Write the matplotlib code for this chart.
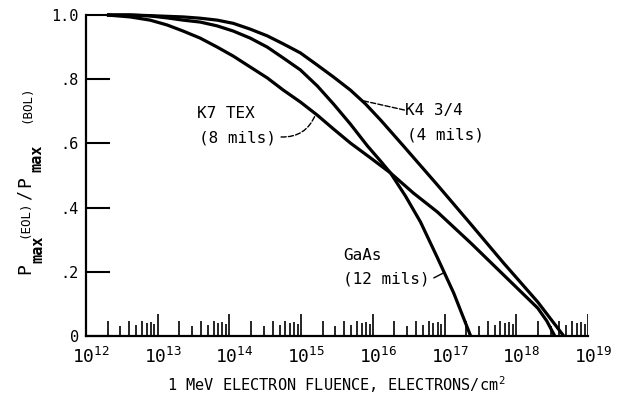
import matplotlib
matplotlib.use("Agg")
import matplotlib.pyplot as plt
from matplotlib.transforms import ScaledTranslation

plt.rcParams['font.family'] = ['DejaVu Sans Mono', 'DejaVu Sans']
plt.rcParams['mathtext.fontset'] = 'custom'
plt.rcParams['mathtext.rm'] = 'DejaVu Sans Mono'
plt.rcParams['mathtext.it'] = 'DejaVu Sans Mono'
plt.rcParams['mathtext.bf'] = 'DejaVu Sans Mono:bold'

# ---- data ----
gaas_fluence = [1.96e12, 4.12e12, 7.83e12, 1.35e13, 2.26e13, 3.91e13, 6.76e13, 1.13e14,
                1.95e14, 3.37e14, 5.64e14, 9.75e14, 1.68e15, 2.82e15, 4.87e15, 8.41e15,
                1.28e16, 1.76e16, 2.85e16, 4.62e16, 7.98e16, 1.34e17, 2.31e17]
gaas_ratio = [1.000, 1.000, 0.997, 0.991, 0.984, 0.978, 0.966, 0.950,
              0.928, 0.900, 0.866, 0.829, 0.779, 0.723, 0.660, 0.592,
              0.545, 0.508, 0.436, 0.355, 0.243, 0.134, 0.0]

k7_fluence = [1.96e12, 4.12e12, 7.83e12, 1.35e13, 2.26e13, 3.91e13, 6.76e13, 1.13e14,
              1.95e14, 3.37e14, 5.64e14, 9.75e14, 1.68e15, 2.82e15, 4.87e15, 9.25e15,
              1.76e16, 3.69e16, 7.98e16, 2.31e17, 6.67e17, 1.99e18, 2.66e18, 3.44e18]
k7_ratio = [1.000, 0.994, 0.984, 0.969, 0.950, 0.928, 0.900, 0.872,
            0.838, 0.804, 0.766, 0.729, 0.688, 0.645, 0.601, 0.555,
            0.508, 0.445, 0.386, 0.290, 0.190, 0.087, 0.047, 0.0]

k4_fluence = [1.96e12, 4.12e12, 7.83e12, 2.26e13, 3.91e13, 6.76e13, 1.13e14, 1.95e14,
              3.37e14, 5.64e14, 9.75e14, 1.68e15, 2.82e15, 4.87e15, 7.89e15, 1.28e16,
              2.67e16, 7.98e16, 2.31e17, 6.67e17, 1.99e18, 3.02e18, 4.59e18]
k4_ratio = [1.000, 1.000, 0.998, 0.994, 0.990, 0.984, 0.974, 0.956,
            0.935, 0.910, 0.882, 0.844, 0.807, 0.766, 0.723, 0.673,
            0.592, 0.470, 0.349, 0.227, 0.106, 0.053, 0.0]

decade_exponents = [12, 13, 14, 15, 16, 17, 18, 19]
minor_multipliers = [2, 3, 4, 5, 6, 7, 8, 9, 10]
minor_heights = [0.048, 0.030, 0.048, 0.033, 0.048, 0.040, 0.045, 0.038, 0.067]

y_ticks = [0, 0.2, 0.4, 0.6, 0.8, 1.0]
y_tick_labels = ['0', '.2', '.4', '.6', '.8', '1.0']
x_tick_labels = [r'$10^{%d}$' % e for e in decade_exponents]

W, H = 630, 398
fig = plt.figure(figsize=(W / 100, H / 100), dpi=100)
ax = fig.add_axes([86 / W, (H - 336) / H, 502 / W, 321 / H])

ax.set_xscale('log')
ax.set_xlim(10.0 ** decade_exponents[0], 10.0 ** decade_exponents[-1])
ax.set_ylim(0, 1.0)

# curves
for fl, r in [(gaas_fluence, gaas_ratio), (k7_fluence, k7_ratio), (k4_fluence, k4_ratio)]:
    ax.plot(fl, r, color='black', lw=2.3, clip_on=False,
            solid_joinstyle='round', solid_capstyle='butt', zorder=3)

# graph-paper style log ticks along the x axis
pos, hts = [], []
for e in decade_exponents[:-1]:
    for m, h in zip(minor_multipliers, minor_heights):
        pos.append(m * 10.0 ** e)
        hts.append(h)
ax.vlines(pos, 0, hts, color='black', lw=1.2, zorder=2)

# spines
for s in ['top', 'right']:
    ax.spines[s].set_visible(False)
for s in ['left', 'bottom']:
    ax.spines[s].set_linewidth(1.6)

# ticks
ax.set_yticks(y_ticks)
ax.set_yticklabels(y_tick_labels, fontsize=11)
ax.tick_params(axis='y', direction='in', length=17, width=1.5, pad=5)
ax.set_xticks([10.0 ** e for e in decade_exponents])
ax.set_xticklabels(x_tick_labels, fontsize=13)
ax.xaxis.set_minor_locator(matplotlib.ticker.NullLocator())
ax.tick_params(axis='x', length=0, pad=8)
shift = ScaledTranslation(0.05, 0, fig.dpi_scale_trans)
for lab in ax.get_xticklabels():
    lab.set_transform(lab.get_transform() + shift)

ax.set_xlabel(r'1 MeV ELECTRON FLUENCE, ELECTRONS/cm$^{\,2}$', fontsize=11, labelpad=5)

# y label built from pieces (pixel positions)
def ft(x, y, s, size, **kw):
    fig.text(x / W, 1 - y / H, s, fontsize=size, rotation=90,
             ha='center', va='center', **kw)

ft(25, 269, 'P', 13)
ft(38, 249, 'max', 11, fontweight='bold')
ft(25, 219, '(EOL)', 9)
ft(25, 195, '/', 12)
ft(25, 182, 'P', 13)
ft(37, 158, 'max', 11, fontweight='bold')
ft(27, 104, '(BOL)', 9)

# annotations
tfs = 11.5
ax.text(10 ** 13.55, 0.693, 'K7 TEX', fontsize=tfs, va='center', ha='left')
ax.text(10 ** 13.58, 0.618, '(8 mils)', fontsize=tfs, va='center', ha='left')
ax.annotate('', xy=(10 ** 15.2, 0.690), xytext=(10 ** 14.72, 0.620),
            arrowprops=dict(arrowstyle='-', linestyle='--', lw=1.0,
                            connectionstyle='arc3,rad=0.35', color='black',
                            shrinkA=0, shrinkB=0))

ax.text(10 ** 16.455, 0.702, 'K4 3/4', fontsize=tfs, va='center', ha='left')
ax.text(10 ** 16.47, 0.626, '(4 mils)', fontsize=tfs, va='center', ha='left')
ax.annotate('', xy=(10 ** 15.86, 0.733), xytext=(10 ** 16.44, 0.704),
            arrowprops=dict(arrowstyle='-', linestyle='--', lw=1.0,
                            connectionstyle='arc3,rad=0.0', color='black',
                            shrinkA=0, shrinkB=0))

ax.text(10 ** 15.59, 0.252, 'GaAs', fontsize=tfs, va='center', ha='left')
ax.text(10 ** 15.59, 0.179, '(12 mils)', fontsize=tfs, va='center', ha='left')
ax.annotate('', xy=(10 ** 16.99, 0.197), xytext=(10 ** 16.85, 0.181),
            arrowprops=dict(arrowstyle='-', lw=1.0, color='black',
                            shrinkA=0, shrinkB=0))

fig.savefig('out.png', dpi=100)
